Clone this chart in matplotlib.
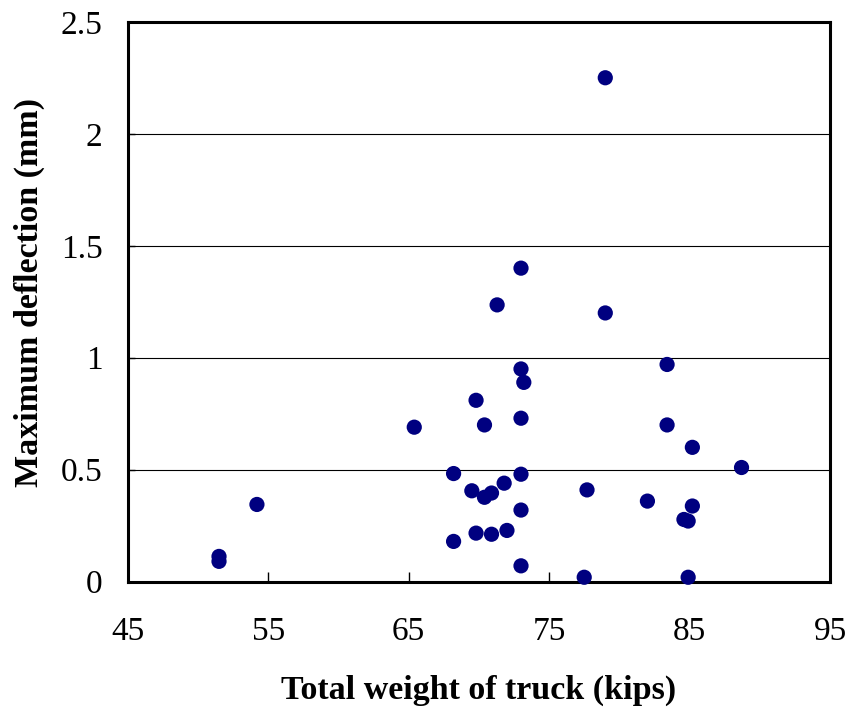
import matplotlib
matplotlib.use("Agg")
import matplotlib.pyplot as plt

# Total truck weight (kips) and measured maximum deflection (mm)
weight_kips = [79.0, 73.0, 71.3, 79.0, 73.0, 73.2, 83.4, 69.8, 65.4, 70.4,
               73.0, 83.4, 85.2, 88.7, 68.2, 73.0, 71.8, 69.5, 70.9, 70.4,
               77.7, 54.2, 82.0, 85.2, 73.0, 84.6, 84.9, 72.0, 69.8, 70.9,
               68.2, 51.5, 51.5, 73.0, 77.5, 84.9]
deflection_mm = [2.25, 1.40, 1.236, 1.20, 0.95, 0.89, 0.97, 0.81, 0.69, 0.70,
                 0.73, 0.70, 0.60, 0.51, 0.483, 0.48, 0.44, 0.406, 0.396, 0.377,
                 0.41, 0.345, 0.36, 0.338, 0.32, 0.278, 0.271, 0.229, 0.217, 0.212,
                 0.18, 0.113, 0.091, 0.071, 0.02, 0.02]

x_ticks = [45, 55, 65, 75, 85, 95]
y_ticks = [0, 0.5, 1, 1.5, 2, 2.5]
y_tick_labels = ["0", "0.5", "1", "1.5", "2", "2.5"]

plt.rcParams["font.family"] = ["Liberation Serif", "DejaVu Serif"]

fig = plt.figure(figsize=(8.48, 7.09), dpi=100)
ax = fig.add_axes([0.1506, 0.1795, 0.8282, 0.7898])

ax.scatter(weight_kips, deflection_mm, s=120, color="#000080",
           edgecolors="none", zorder=3, clip_on=False)

ax.set_xlim(45, 95)
ax.set_ylim(0, 2.5)
ax.set_xticks(x_ticks)
ax.set_yticks(y_ticks)
ax.set_yticklabels(y_tick_labels)

for y in y_ticks[1:-1]:
    ax.axhline(y, color="black", linewidth=0.8, zorder=1)

for spine in ax.spines.values():
    spine.set_linewidth(2.2)
    spine.set_color("black")

ax.tick_params(axis="x", direction="in", length=7, width=1, pad=25,
               labelsize=24)
ax.tick_params(axis="y", direction="in", length=5, width=1, pad=18,
               labelsize=24)

ax.set_xlabel("Total weight of truck (kips)", fontsize=24.5, fontweight="bold",
              labelpad=20)
ax.set_ylabel("Maximum deflection (mm)", fontsize=24.5, fontweight="bold")
ax.yaxis.set_label_coords(-0.118, 0.517)

fig.savefig("out.png", dpi=100)
